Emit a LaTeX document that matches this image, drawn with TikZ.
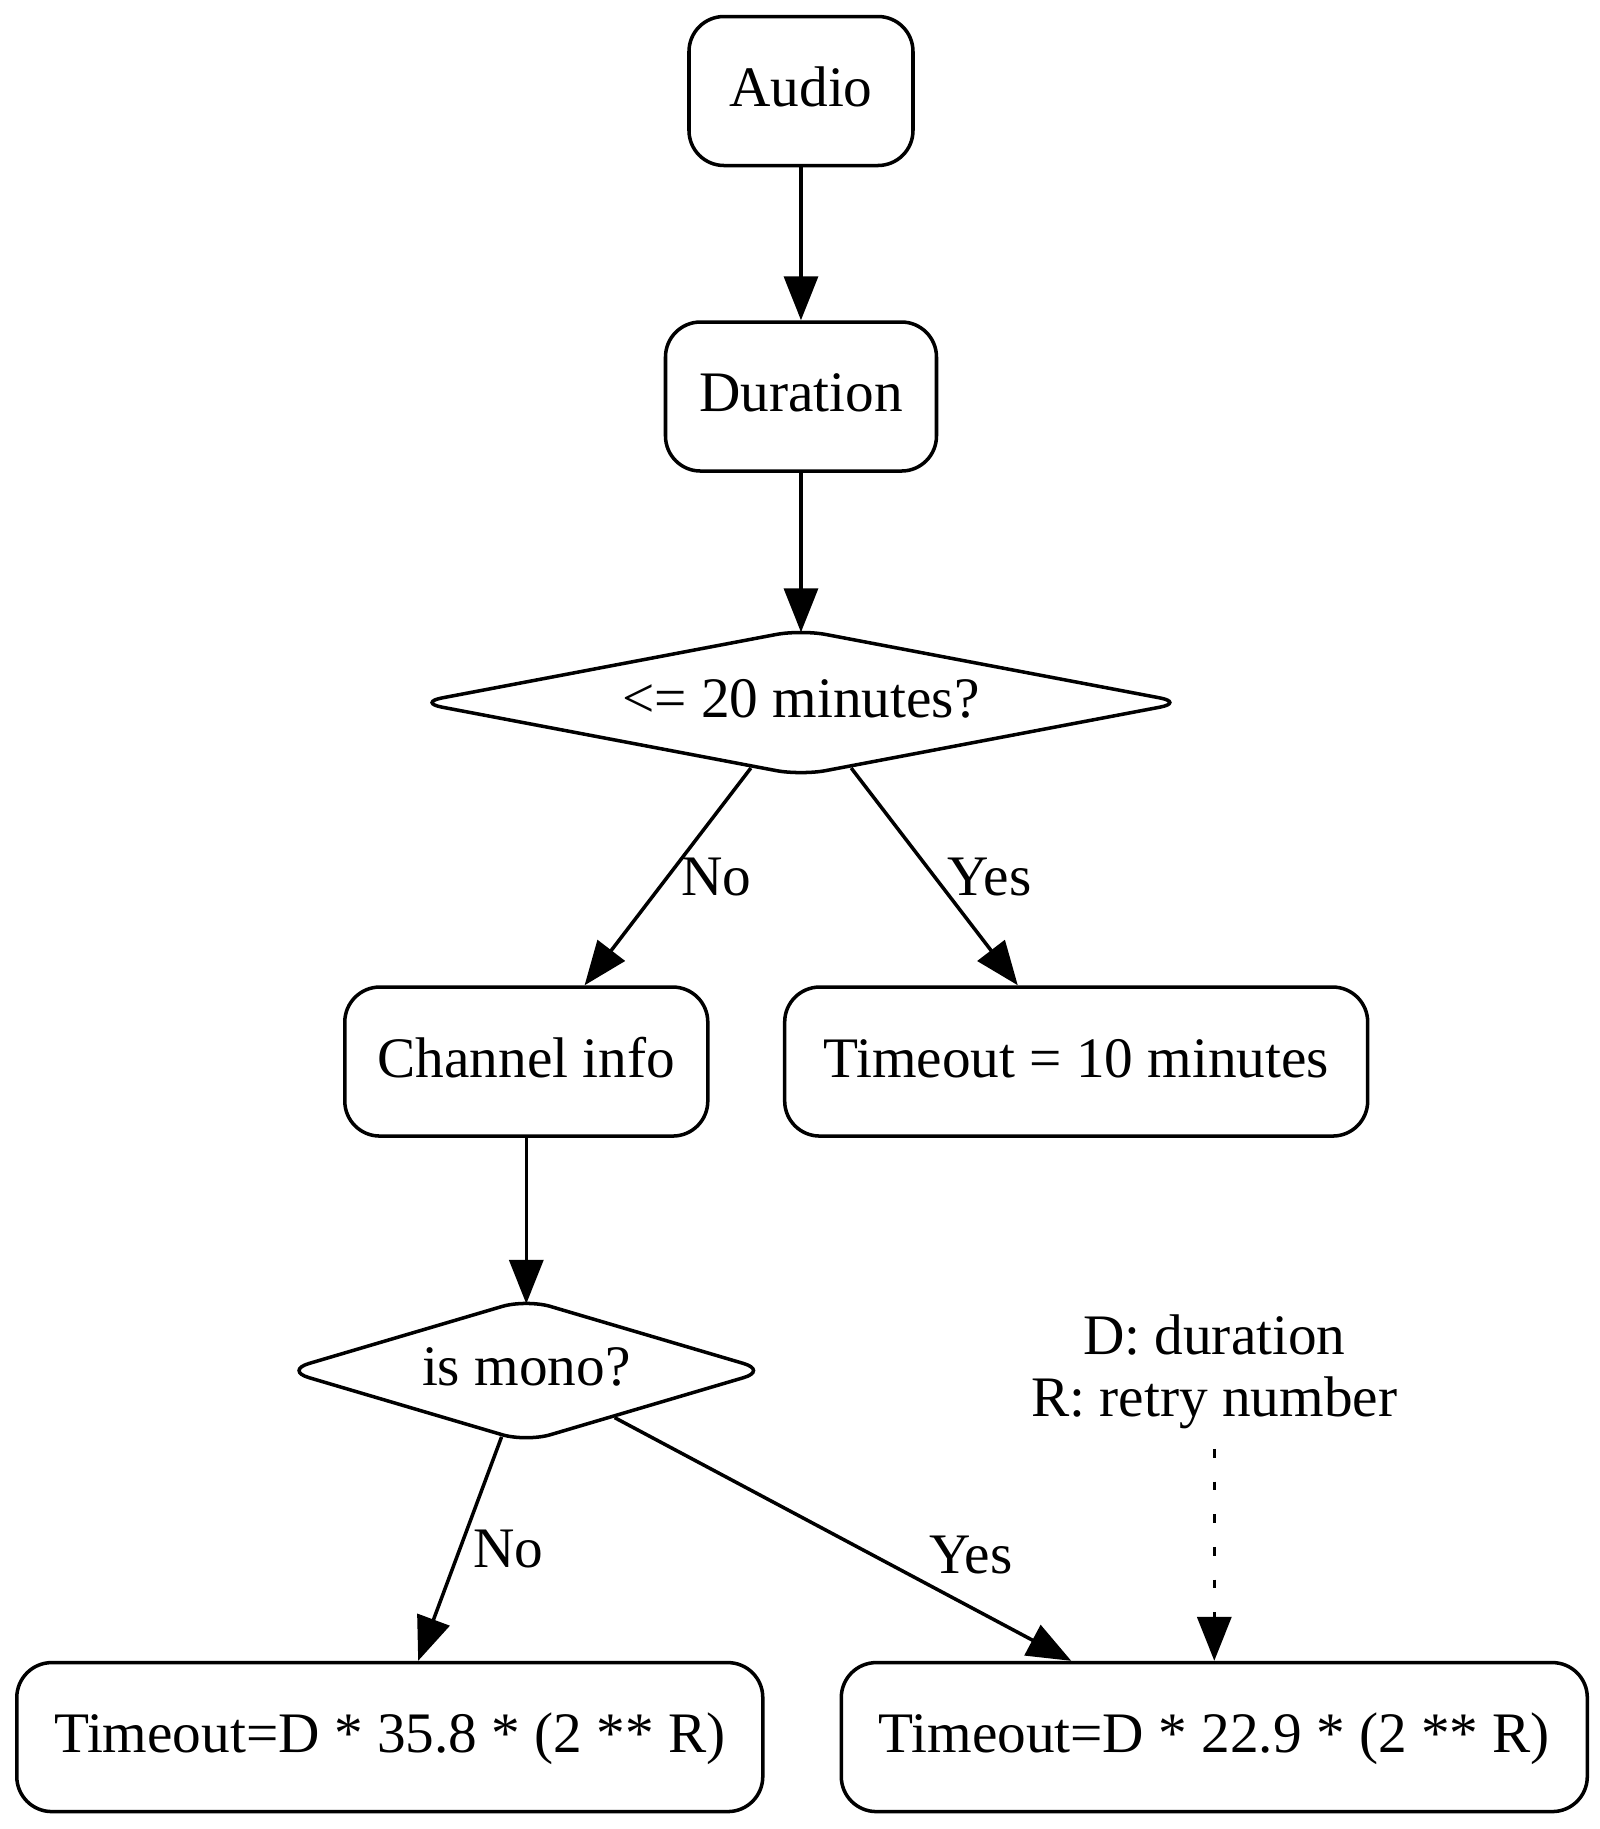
\documentclass[tikz,border=0pt]{standalone}
\usepackage{fontspec}
\setmainfont{Liberation Serif}
\usetikzlibrary{shapes.geometric, positioning, arrows.meta}

\begin{document}
\begin{tikzpicture}[
    font=\fontsize{16.3pt}{17.6pt}\selectfont,
    st/.style={rectangle, rounded corners=0.35cm, draw, line width=1pt,
        minimum height=1.49cm, inner xsep=0.2cm, text height=0.88em, text depth=0pt},
    dc/.style={diamond, aspect=5, rounded corners=0.25cm, draw, line width=1pt,
        inner sep=0pt, text height=0.84em, text depth=0pt},
    ar/.style={-{Triangle[length=0.44cm, width=0.34cm]}, line width=1pt},
    nt/.style={align=center, inner sep=0.19cm}]
\useasboundingbox (-8.01,0.91) rectangle (7.99,-17.38);
\node[st, minimum width=2.24cm] (Au) {Audio};
\node[st, minimum width=2.71cm, below=1.53cm of Au] (Du) {Duration};
\node[dc, minimum width=7.68cm, minimum height=1.47cm, below=1.545cm of Du] (Lt) {<= 20 minutes?};
\node[st, minimum width=3.63cm, below=2.075cm of Lt, xshift=-2.747cm] (Ch) {Channel info};
\node[st, minimum width=5.83cm, below=2.075cm of Lt, xshift=2.752cm] (To) {Timeout = 10 minutes};
\node[dc, minimum width=4.84cm, minimum height=1.44cm, below=1.59cm of Ch] (Mo) {is mono?};
\node[st, minimum width=7.46cm, below=2.165cm of Mo, xshift=-1.365cm] (Fs) {Timeout=D * 35.8 * (2 ** R)};
\node[st, minimum width=7.46cm, right=0.75cm of Fs] (Fm) {Timeout=D * 22.9 * (2 ** R)};
\node[nt, above=2.12cm of Fm] (Nt) {D: duration\\R: retry number};
\draw[ar] (Au) -- (Du);
\draw[ar, shorten >=-0.05cm] (Du) -- (Lt);
\draw[ar] (Lt) -- node[right, pos=0.5] {No} (Ch);
\draw[ar] (Lt) -- node[right, pos=0.5] {Yes} (To);
\draw[ar, shorten >=-0.07cm] (Ch) -- (Mo);
\draw[ar] (Mo) -- node[right, pos=0.5] {No} (Fs);
\draw[ar] (Mo) -- node[above=0.2cm, pos=0.78] {Yes} (Fm);
\draw[ar, dash pattern=on 2.5pt off 6.8pt] (Nt) -- (Fm);
\end{tikzpicture}
\end{document}
